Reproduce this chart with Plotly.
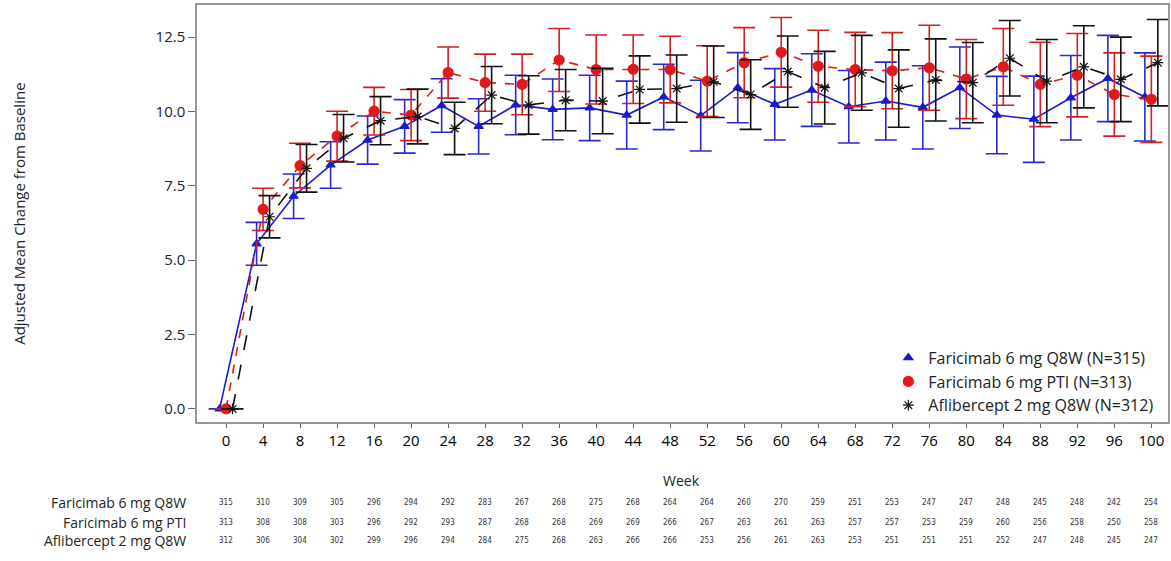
import plotly.graph_objects as go

weeks = [0, 4, 8, 12, 16, 20, 24, 28, 32, 36, 40, 44, 48, 52, 56, 60, 64, 68, 72, 76, 80, 84, 88, 92, 96, 100]

series_names = ["Faricimab 6 mg Q8W (N=315)", "Faricimab 6 mg PTI (N=313)", "Aflibercept 2 mg Q8W (N=312)"]
table_labels = ["Faricimab 6 mg Q8W", "Faricimab 6 mg PTI", "Aflibercept 2 mg Q8W"]

q8w_mean = [0.0, 5.55, 7.15, 8.2, 9.04, 9.5, 10.2, 9.5, 10.22, 10.07, 10.12, 9.88, 10.49, 9.86, 10.8, 10.24,
            10.72, 10.16, 10.35, 10.14, 10.8, 9.88, 9.74, 10.46, 11.11, 10.49]
q8w_err = [0.0, 0.72, 0.75, 0.78, 0.81, 0.9, 0.9, 0.93, 1.0, 1.02, 1.1, 1.14, 1.1, 1.19, 1.18, 1.2,
           1.22, 1.22, 1.31, 1.4, 1.37, 1.3, 1.45, 1.42, 1.45, 1.48]

pti_mean = [0.0, 6.71, 8.18, 9.17, 10.01, 9.88, 11.31, 10.97, 10.91, 11.73, 11.41, 11.42, 11.41, 11.02, 11.64, 11.99,
            11.52, 11.41, 11.37, 11.47, 11.09, 11.5, 10.91, 11.22, 10.57, 10.41]
pti_err = [0.0, 0.71, 0.75, 0.84, 0.8, 0.86, 0.86, 0.96, 1.02, 1.06, 1.16, 1.15, 1.12, 1.19, 1.18, 1.17,
           1.21, 1.25, 1.28, 1.43, 1.33, 1.29, 1.42, 1.4, 1.4, 1.45]

afl_mean = [0.0, 6.46, 8.09, 9.1, 9.69, 9.83, 9.43, 10.55, 10.22, 10.38, 10.35, 10.74, 10.77, 11.0, 10.57, 11.34,
            10.8, 11.3, 10.77, 11.06, 10.97, 11.79, 11.02, 11.5, 11.08, 11.64]
afl_err = [0.0, 0.71, 0.8, 0.8, 0.81, 0.92, 0.88, 0.96, 0.98, 1.03, 1.1, 1.13, 1.13, 1.2, 1.17, 1.2,
           1.22, 1.26, 1.3, 1.38, 1.35, 1.27, 1.4, 1.38, 1.42, 1.45]

n_q8w = [315, 310, 309, 305, 296, 294, 292, 283, 267, 268, 275, 268, 264, 264, 260, 270, 259, 251, 253, 247, 247, 248, 245, 248, 242, 254]
n_pti = [313, 308, 308, 303, 296, 292, 293, 287, 268, 268, 269, 269, 266, 267, 263, 261, 263, 257, 257, 253, 259, 260, 256, 258, 250, 258]
n_afl = [312, 306, 304, 302, 299, 296, 294, 284, 275, 268, 263, 266, 266, 253, 256, 261, 263, 253, 251, 251, 251, 252, 247, 248, 245, 247]

BLUE = "#1a1acc"
RED = "#e01a1a"
BLACK = "#111111"
FONT = "Open Sans"

styles = [
    dict(mean=q8w_mean, err=q8w_err, color=BLUE, errcolor="#2a2ad0", dash="solid", symbol="triangle-up", size=8, off=-0.7),
    dict(mean=pti_mean, err=pti_err, color=RED, errcolor="#d42020", dash="dash", symbol="circle", size=10, off=0.0),
    dict(mean=afl_mean, err=afl_err, color=BLACK, errcolor=BLACK, dash="longdash", symbol="asterisk-open", size=9, off=0.7),
]

fig = go.Figure()
for name, s in zip(series_names, styles):
    xs = [w + s["off"] for w in weeks]
    fig.add_trace(go.Scatter(
        x=xs, y=s["mean"], mode="lines+markers", name=name, showlegend=False,
        line=dict(color=s["color"], width=1.6, dash=s["dash"]),
        marker=dict(symbol=s["symbol"], size=s["size"], color=s["color"],
                    line=dict(color=s["color"], width=1.2)),
        error_y=dict(type="data", array=s["err"], visible=True, color=s["errcolor"], thickness=1.6, width=11),
    ))
    fig.add_trace(go.Scatter(
        x=[None], y=[None], mode="markers", name=name, showlegend=True,
        marker=dict(symbol=s["symbol"], size=s["size"], color=s["color"],
                    line=dict(color=s["color"], width=1.2)),
    ))

annotations = []
row_y = [-0.194, -0.240, -0.285]
for label, counts, yy in zip(table_labels, [n_q8w, n_pti, n_afl], row_y):
    annotations.append(dict(text=label, xref="paper", yref="paper", x=-0.009, y=yy,
                            xanchor="right", yanchor="middle", showarrow=False,
                            font=dict(family=FONT, size=14, color="#222")))
    for w, c in zip(weeks, counts):
        annotations.append(dict(text=str(c), xref="x", yref="paper", x=w, y=yy,
                                xanchor="center", yanchor="middle", showarrow=False,
                                font=dict(family="DejaVu Sans Condensed, DejaVu Sans", size=8, color="#333")))

annotations.append(dict(text="Week", xref="paper", yref="paper", x=0.499, y=-0.141,
                        xanchor="center", yanchor="middle", showarrow=False,
                        font=dict(family=FONT, size=14, color="#222")))
annotations.append(dict(text="Adjusted Mean Change from Baseline", xref="paper", yref="paper",
                        x=-0.184, y=0.5, xanchor="center", yanchor="middle", textangle=-90,
                        showarrow=False, font=dict(family=FONT, size=15, color="#222")))

fig.update_layout(
    width=1171, height=561,
    margin=dict(l=197, r=3, t=5, b=139, autoexpand=False),
    paper_bgcolor="white", plot_bgcolor="white",
    font=dict(family=FONT, size=13, color="#222"),
    showlegend=True,
    legend=dict(x=0.712, y=0.195, xanchor="left", yanchor="top", bgcolor="rgba(0,0,0,0)",
                font=dict(family=FONT, size=16, color="#222"), tracegroupgap=0, itemwidth=30),
    annotations=annotations,
)
fig.update_xaxes(
    range=[-3.14, 101.8], tickmode="array", tickvals=weeks, ticktext=[str(w) for w in weeks],
    ticks="outside", ticklen=4, tickcolor="#666", showgrid=False, zeroline=False,
    showline=True, linecolor="#999", linewidth=1.5, mirror=True,
    tickfont=dict(family=FONT, size=15, color="#000"),
)
fig.update_yaxes(
    range=[-0.44, 13.58], tickmode="array", tickvals=[0, 2.5, 5, 7.5, 10, 12.5],
    ticktext=["0.0", "2.5", "5.0", "7.5", "10.0", "12.5"],
    ticks="outside", ticklen=7, tickcolor="#666", showgrid=False, zeroline=False,
    showline=True, linecolor="#999", linewidth=1.5, mirror=True,
    tickfont=dict(family=FONT, size=15, color="#222"),
)

fig.write_html("out.html", config={"displayModeBar": False},
               post_script="document.body.style.margin='0px';")
